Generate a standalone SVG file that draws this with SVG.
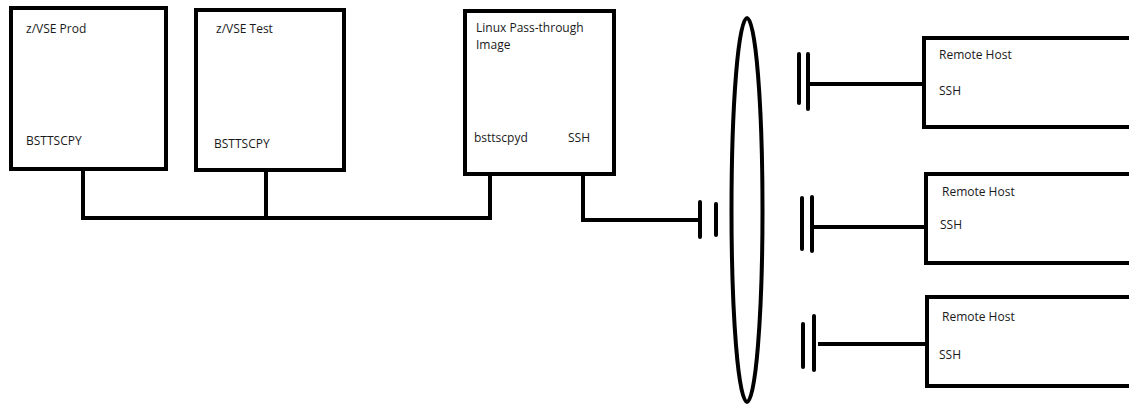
<svg xmlns="http://www.w3.org/2000/svg" width="1129" height="407" viewBox="0 0 1129 407">
<style>
.box{fill:#fff;stroke:#000;stroke-width:4}
.ln{fill:none;stroke:#000;stroke-width:4}
.cap{fill:none;stroke:#000;stroke-width:4;stroke-linecap:round}
text{font-family:"Open Sans","Liberation Sans",sans-serif;font-size:12px;fill:#1a1a1a}
</style>
<rect width="1129" height="407" fill="#fff"/>
<g id="connectors">
<polyline class="ln" points="83,169 83,218 490,218 490,174"/>
<line class="ln" x1="266" y1="170" x2="266" y2="218"/>
<polyline class="ln" points="583,174 583,220 701,220"/>
<line class="cap" x1="700" y1="202" x2="700" y2="237"/>
<line class="cap" x1="716" y1="204" x2="716" y2="235"/>
<ellipse class="ln" cx="747" cy="210" rx="15.5" ry="192"/>
<line class="ln" x1="808" y1="84" x2="922" y2="84"/>
<line class="cap" x1="799" y1="54" x2="799" y2="103"/>
<line class="cap" x1="808" y1="54" x2="808" y2="109"/>
<line class="ln" x1="813" y1="227" x2="924" y2="227"/>
<line class="cap" x1="802" y1="198" x2="802" y2="249"/>
<line class="cap" x1="812" y1="197" x2="812" y2="251"/>
<line class="ln" x1="818" y1="344" x2="925" y2="344"/>
<line class="cap" x1="803" y1="324" x2="803" y2="367"/>
<line class="cap" x1="814" y1="316" x2="814" y2="370"/>
</g>
<g id="zvse-prod">
<rect class="box" x="11" y="8" width="155" height="161"/>
<text x="26" y="33">z/VSE Prod</text>
<text x="26" y="145">BSTTSCPY</text>
</g>
<g id="zvse-test">
<rect class="box" x="196" y="10" width="148" height="160"/>
<text x="216" y="33">z/VSE Test</text>
<text x="214" y="148">BSTTSCPY</text>
</g>
<g id="linux">
<rect class="box" x="465" y="11" width="149" height="163"/>
<text x="476" y="32">Linux Pass-through</text>
<text x="476" y="49">Image</text>
<text x="474" y="142">bsttscpyd</text>
<text x="568" y="142">SSH</text>
</g>
<g id="remote1">
<rect class="box" x="924" y="38" width="220" height="89"/>
<text x="939" y="59">Remote Host</text>
<text x="939" y="95">SSH</text>
</g>
<g id="remote2">
<rect class="box" x="926" y="174" width="220" height="89"/>
<text x="942" y="196">Remote Host</text>
<text x="940" y="229">SSH</text>
</g>
<g id="remote3">
<rect class="box" x="927" y="297" width="220" height="89"/>
<text x="942" y="321">Remote Host</text>
<text x="939" y="359">SSH</text>
</g>
</svg>
